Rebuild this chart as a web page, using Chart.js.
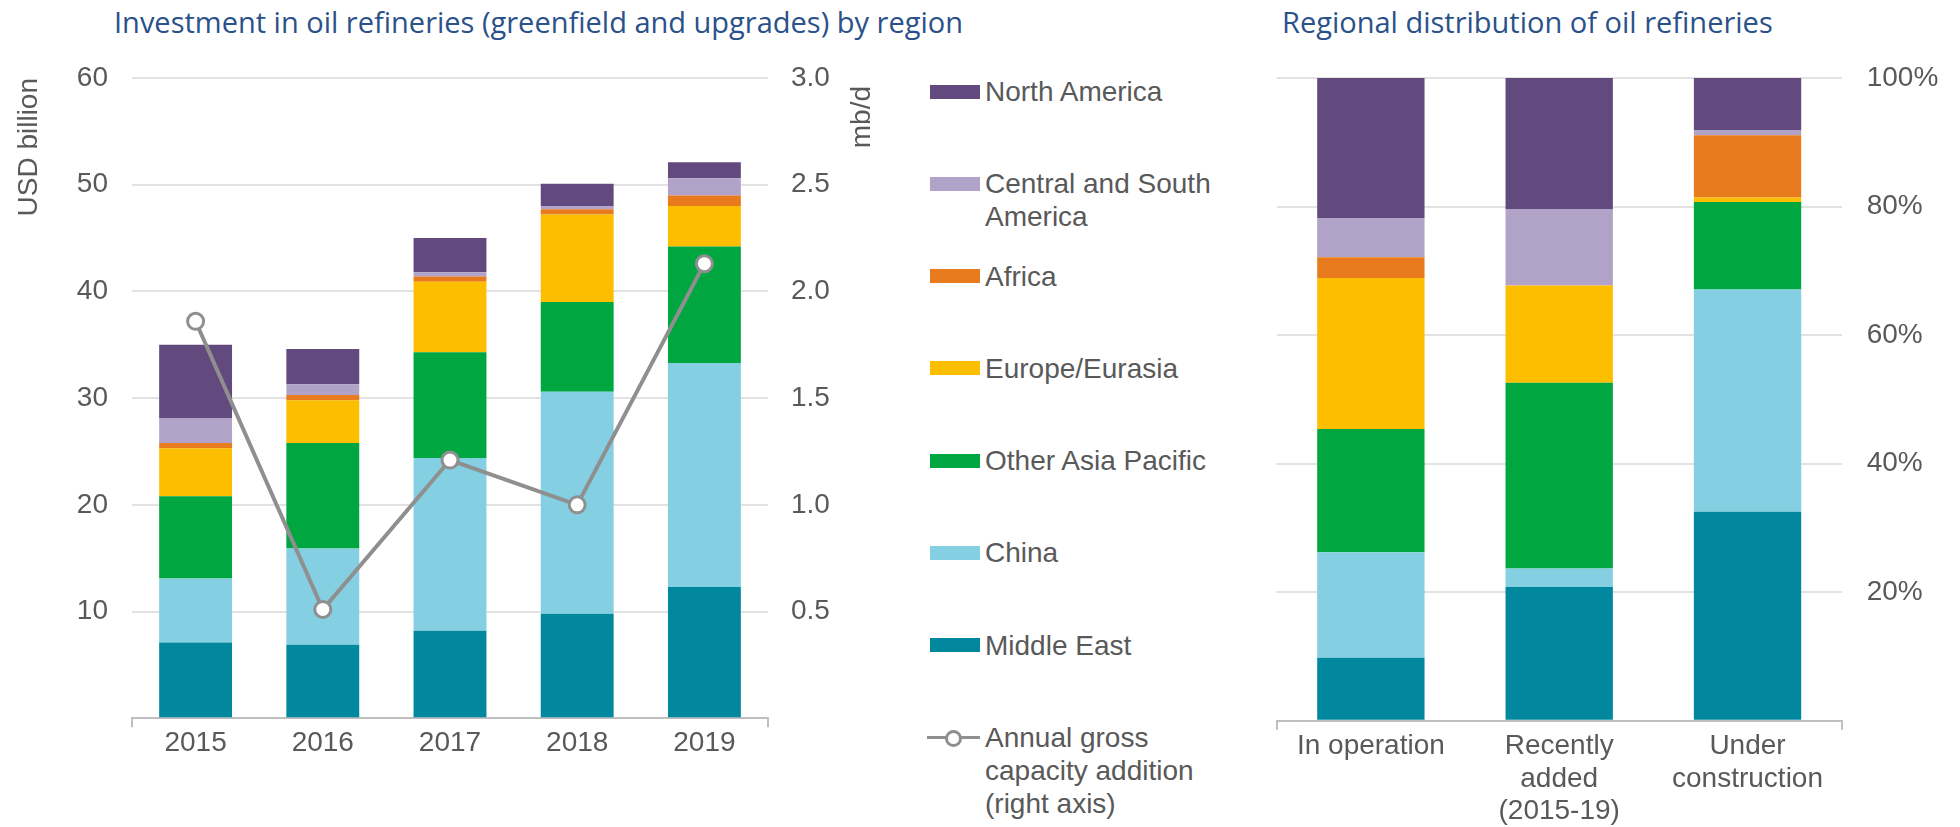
<!DOCTYPE html>
<html>
<head>
<meta charset="utf-8">
<script src="https://cdn.jsdelivr.net/npm/chart.js@4.4.1/dist/chart.umd.min.js"></script>
<style>
  html, body { margin: 0; padding: 0; background: #fff; }
  body { width: 1960px; height: 827px; position: relative; overflow: hidden; font-family: 'Liberation Sans', Arial, sans-serif; }
  .title { position: absolute; top: 6.5px; font-family: 'Open Sans', sans-serif; font-size: 29px; line-height: 29px; color: #2a5189; white-space: nowrap; }
  #leftCanvas { position: absolute; left: 0; top: 0; }
  #rightCanvas { position: absolute; left: 1240px; top: 0; }
  #legend { position: absolute; left: 927px; top: 75px; margin: 0; padding: 0; list-style: none; }
  #legend li { height: 92.3px; display: flex; align-items: flex-start; }
  #legend .sw { width: 50px; height: 14px; margin: 9.5px 5px 0 3px; flex: none; }
  #legend .ln { width: 53px; height: 33px; margin: 0 5px 0 0; flex: none; position: relative; }
  #legend .ln::before { content: ''; position: absolute; left: 0; right: 0; top: 15px; height: 3px; background: #8f8f8f; }
  #legend .ln::after { content: ''; position: absolute; left: 18px; top: 8.5px; width: 11px; height: 11px; border: 3px solid #8f8f8f; border-radius: 50%; background: #fff; }
  #legend .txt { font-size: 28px; line-height: 33px; color: #595959; }
</style>
</head>
<body>
<div class="title" style="left:114px">Investment in oil refineries (greenfield and upgrades) by region</div>
<div class="title" style="left:1282px">Regional distribution of oil refineries</div>
<canvas id="leftCanvas" width="900" height="827"></canvas>
<ul id="legend"></ul>
<canvas id="rightCanvas" width="720" height="827"></canvas>
<script>
// categories
const years = ['2015', '2016', '2017', '2018', '2019'];
const statusLabels = [['In operation'], ['Recently', 'added', '(2015-19)'], ['Under', 'construction']];

// series, stacked bottom to top
const regionNames = ['Middle East', 'China', 'Other Asia Pacific', 'Europe/Eurasia', 'Africa', 'Central and South America', 'North America'];
const regionColors = ['#01889f', '#84cfe2', '#00a740', '#fdbe00', '#e87b1d', '#b1a2c8', '#634a7e'];

// investment, USD billion (left panel)
const middleEast = [7.1, 6.9, 8.2, 9.8, 12.3];
const china = [6.0, 9.0, 16.2, 20.8, 21.0];
const otherAsiaPacific = [7.7, 9.9, 9.9, 8.4, 10.9];
const europeEurasia = [4.5, 4.0, 6.6, 8.2, 3.8];
const africa = [0.5, 0.5, 0.5, 0.5, 1.0];
const centralSouthAmerica = [2.3, 1.0, 0.4, 0.3, 1.6];
const northAmerica = [6.9, 3.3, 3.2, 2.1, 1.5];
const investment = [middleEast, china, otherAsiaPacific, europeEurasia, africa, centralSouthAmerica, northAmerica];

// annual gross capacity addition, mb/d (right axis)
const lineLabel = 'Annual gross capacity addition (right axis)';
const capacityAddition = [1.86, 0.51, 1.21, 1.00, 2.13];

// regional distribution, % (right panel): in operation, recently added, under construction
const shareMiddleEast = [9.8, 20.8, 32.5];
const shareChina = [16.4, 2.9, 34.6];
const shareOtherAsia = [19.2, 28.9, 13.6];
const shareEurope = [23.5, 15.1, 0.7];
const shareAfrica = [3.2, 0, 9.7];
const shareCSAmerica = [6.1, 11.9, 0.8];
const shareNorthAmerica = [21.8, 20.4, 8.1];
const shares = [shareMiddleEast, shareChina, shareOtherAsia, shareEurope, shareAfrica, shareCSAmerica, shareNorthAmerica];

// tick labels
const usdTicks = [10, 20, 30, 40, 50, 60];
const mbdTicks = [0.5, 1.0, 1.5, 2.0, 2.5, 3.0];
const pctTicks = [20, 40, 60, 80, 100];

const textColor = '#595959';
const gridColor = '#e2e2e2';
const axisColor = '#bfbfbf';
const baseFont = { family: "'Liberation Sans', Arial, sans-serif", size: 28, lineHeight: 1.17 };

Chart.defaults.font.family = baseFont.family;
Chart.defaults.color = textColor;

// only the two outer tick marks of the category axis are visible
const endTicks = ctx => (ctx.index === 0 || ctx.index === undefined) ? axisColor : 'rgba(0,0,0,0)';

const categoryAxis = height => ({
    stacked: true,
    offset: true,
    grid: { drawOnChartArea: false, drawTicks: true, tickLength: 9, lineWidth: 2, color: endTicks },
    border: { display: true, color: axisColor, width: 2 },
    ticks: { color: textColor, font: baseFont, padding: 0, maxRotation: 0, autoSkip: false },
    afterFit: s => { s.height = height; }
});

// right-hand "mb/d" title reads bottom-to-top like the left one
const sideTitle = {
    id: 'sideTitle',
    afterDraw(chart) {
        const s = chart.scales.y1;
        const ctx = chart.ctx;
        ctx.save();
        ctx.translate(862, s.top + 8);
        ctx.rotate(-Math.PI / 2);
        ctx.font = "28px 'Liberation Sans', Arial, sans-serif";
        ctx.fillStyle = textColor;
        ctx.textAlign = 'right';
        ctx.textBaseline = 'middle';
        ctx.fillText('mb/d', 0, 0);
        ctx.restore();
    }
};

// Investment by region
const barSets = investment.map((vals, i) => ({
    label: regionNames[i],
    data: vals,
    backgroundColor: regionColors[i],
    borderWidth: 0,
    stack: 'inv',
    yAxisID: 'y',
    order: 1,
    barPercentage: 0.573,
    categoryPercentage: 1
}));

new Chart(document.getElementById('leftCanvas').getContext('2d'), {
    type: 'bar',
    data: {
        labels: years,
        datasets: [
            {
                type: 'line',
                label: lineLabel,
                data: capacityAddition,
                yAxisID: 'y1',
                borderColor: '#8f8f8f',
                borderWidth: 4,
                pointRadius: 8,
                pointBorderWidth: 3,
                pointBackgroundColor: '#ffffff',
                pointBorderColor: '#8f8f8f',
                tension: 0,
                order: 0
            },
            ...barSets
        ]
    },
    options: {
        responsive: false,
        animation: false,
        layout: { padding: { top: 78, left: 0, right: 0, bottom: 0 } },
        plugins: { legend: { display: false }, tooltip: { enabled: false } },
        scales: {
            x: categoryAxis(827 - 718.3),
            y: {
                position: 'left',
                stacked: true,
                min: 0,
                max: 60,
                afterBuildTicks: s => { s.ticks = [0, ...usdTicks].map(v => ({ value: v })); },
                ticks: { color: textColor, font: baseFont, padding: 24, callback: v => v === 0 ? '' : v },
                grid: { color: gridColor, lineWidth: 2, drawTicks: false },
                border: { display: false },
                title: { display: true, text: 'USD billion', align: 'end', color: textColor, font: { size: 28 }, padding: { top: 12, bottom: 0 } },
                afterFit: s => { s.width = 132; }
            },
            y1: {
                position: 'right',
                min: 0,
                max: 3,
                afterBuildTicks: s => { s.ticks = [0, ...mbdTicks].map(v => ({ value: v })); },
                ticks: { color: textColor, font: baseFont, padding: 23, callback: v => v === 0 ? '' : v.toFixed(1) },
                grid: { drawOnChartArea: false, drawTicks: false },
                border: { display: false },
                afterFit: s => { s.width = 132; }
            }
        }
    },
    plugins: [sideTitle]
});

// Legend (top to bottom = reverse stacking order, then the line)
const legend = document.getElementById('legend');
for (let i = regionNames.length - 1; i >= 0; i--) {
    const li = document.createElement('li');
    const name = regionNames[i] === 'Central and South America' ? 'Central and South<br>America' : regionNames[i];
    li.innerHTML = '<span class="sw" style="background:' + regionColors[i] + '"></span><span class="txt">' + name + '</span>';
    legend.appendChild(li);
}
const lineItem = document.createElement('li');
lineItem.innerHTML = '<span class="ln"></span><span class="txt">Annual gross<br>capacity addition<br>(right axis)</span>';
legend.appendChild(lineItem);

// Regional distribution
new Chart(document.getElementById('rightCanvas').getContext('2d'), {
    type: 'bar',
    data: {
        labels: statusLabels,
        datasets: shares.map((vals, i) => ({
            label: regionNames[i],
            data: vals,
            backgroundColor: regionColors[i],
            borderWidth: 0,
            barPercentage: 0.57,
            categoryPercentage: 1
        }))
    },
    options: {
        responsive: false,
        animation: false,
        layout: { padding: { top: 78, left: 36.7, right: 0, bottom: 0 } },
        plugins: { legend: { display: false }, tooltip: { enabled: false } },
        scales: {
            x: categoryAxis(827 - 720.7),
            y: {
                position: 'right',
                stacked: true,
                min: 0,
                max: 100,
                afterBuildTicks: s => { s.ticks = [0, ...pctTicks].map(v => ({ value: v })); },
                ticks: { color: textColor, font: baseFont, padding: 25, callback: v => v === 0 ? '' : v + '%' },
                grid: { color: gridColor, lineWidth: 2, drawTicks: false },
                border: { display: false },
                afterFit: s => { s.width = 118.3; }
            }
        }
    }
});
</script>
</body>
</html>
